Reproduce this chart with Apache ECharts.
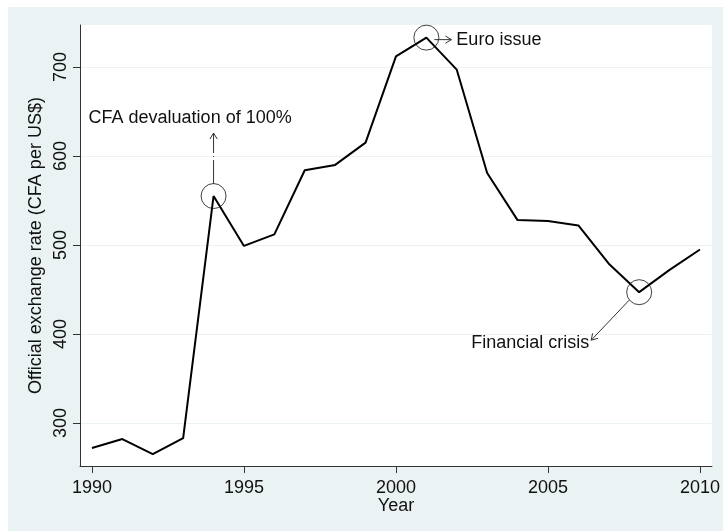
<!DOCTYPE html>
<html>
<head>
<meta charset="utf-8">
<title>Official exchange rate, CFA franc per US dollar</title>
<script src="https://cdn.jsdelivr.net/npm/echarts@6/dist/echarts.min.js"></script>
<style>
  html, body { margin: 0; padding: 0; background: #ffffff; }
  #chart { position: absolute; left: 8px; top: 7px; width: 715px; height: 524px; }
</style>
</head>
<body>
<div id="chart"></div>
<script>
// Annual official exchange rate, CFA francs per US dollar
const years = [1990, 1991, 1992, 1993, 1994, 1995, 1996, 1997, 1998, 1999, 2000,
               2001, 2002, 2003, 2004, 2005, 2006, 2007, 2008, 2009, 2010];
const rates = [272, 282, 265, 283, 555, 499, 512, 584, 590, 615, 712,
               733, 697, 581, 528, 527, 522, 479, 447, 472, 495];

const xTicks = [1990, 1995, 2000, 2005, 2010];
const yTicks = [300, 400, 500, 600, 700];

// Highlighted events
const eventYears = [1994, 2001, 2008];
const eventTexts = ['CFA devaluation of 100%', 'Euro issue', 'Financial crisis'];

const FONT = '"Liberation Sans", Arial, Helvetica, sans-serif';
const INK = '#111111';
const AXIS = '#333333';
const BG = '#eaf2f3';

const chart = echarts.init(document.getElementById('chart'), null, { renderer: 'canvas' });

const eventPoints = eventYears.map(y => [y, rates[years.indexOf(y)]]);

chart.setOption({
  backgroundColor: BG,
  animation: false,
  grid: {
    left: 72, top: 18, right: 8, bottom: 65,
    show: true, backgroundColor: '#ffffff', borderWidth: 0
  },
  xAxis: {
    type: 'value',
    min: 1989.607, max: 2010.393,
    name: 'Year',
    nameLocation: 'middle',
    nameGap: 31,
    nameMoveOverlap: false,
    nameTextStyle: { fontFamily: FONT, fontSize: 18, color: INK },
    axisLine: { show: true, onZero: false, lineStyle: { color: AXIS, width: 1 } },
    axisTick: { show: true, length: 7, customValues: xTicks, lineStyle: { color: AXIS } },
    axisLabel: { customValues: xTicks, formatter: v => String(v), margin: 13,
                 fontFamily: FONT, fontSize: 18, color: INK },
    splitLine: { show: false }
  },
  yAxis: {
    type: 'value',
    min: 251.7, max: 747.2,
    name: 'Official exchange rate (CFA per US$)',
    nameLocation: 'middle',
    nameRotate: 90,
    nameGap: 35,
    nameMoveOverlap: false,
    nameTextStyle: { fontFamily: FONT, fontSize: 18, color: INK },
    axisLine: { show: true, onZero: false, lineStyle: { color: AXIS, width: 1 } },
    axisTick: { show: true, length: 7, customValues: yTicks, lineStyle: { color: AXIS } },
    axisLabel: { customValues: yTicks, formatter: v => String(v), rotate: 90, margin: 10,
                 fontFamily: FONT, fontSize: 18, color: INK },
    splitLine: { show: true, lineStyle: { color: BG, width: 1 } }
  },
  series: [
    {
      type: 'line',
      data: years.map((y, i) => [y, rates[i]]),
      showSymbol: false,
      lineStyle: { color: '#000000', width: 2 },
      z: 3
    },
    {
      type: 'scatter',
      data: eventPoints,
      symbol: 'circle',
      symbolSize: 25,
      itemStyle: { color: 'rgba(0,0,0,0)', borderColor: '#111111', borderWidth: 1 },
      z: 4
    }
  ]
});

// Arrow with an open V head at (x2, y2)
function arrow(x1, y1, x2, y2, dash) {
  const ang = Math.atan2(y2 - y1, x2 - x1);
  const L = 7, W = 0.55;
  const a1 = [x2 - L * Math.cos(ang - W), y2 - L * Math.sin(ang - W)];
  const a2 = [x2 - L * Math.cos(ang + W), y2 - L * Math.sin(ang + W)];
  return [
    { type: 'line', shape: { x1, y1, x2, y2 }, silent: true, z: 10,
      style: { stroke: '#333333', lineWidth: 1, lineDash: dash || null } },
    { type: 'polyline', shape: { points: [a1, [x2, y2], a2] }, silent: true, z: 10,
      style: { stroke: '#333333', lineWidth: 1, fill: null } }
  ];
}

function label(text, x, y, align) {
  return { type: 'text', x, y, silent: true, z: 10,
    style: { text, fill: INK, font: '18px ' + FONT, align, verticalAlign: 'middle' } };
}

// Pixel offsets of each arrow and caption from its marked point
const px = eventPoints.map(p => chart.convertToPixel({ gridIndex: 0 }, p));
const g = [];
// 1994 devaluation: dash-dot arrow pointing up to the caption
g.push(...arrow(px[0][0], px[0][1] - 12, px[0][0], px[0][1] - 63, [24, 3, 1, 3]));
g.push(label(eventTexts[0], px[0][0] - 125, px[0][1] - 78, 'left'));
// 2001 euro: short arrow to the right
g.push(...arrow(px[1][0] + 8, px[1][1] + 2, px[1][0] + 25, px[1][1] + 2));
g.push(label(eventTexts[1], px[1][0] + 30, px[1][1] + 2, 'left'));
// 2008 crisis: arrow down-left to the caption
g.push(...arrow(px[2][0] - 10, px[2][1] + 8, px[2][0] - 48, px[2][1] + 48));
g.push(label(eventTexts[2], px[2][0] - 50, px[2][1] + 51, 'right'));

chart.setOption({ graphic: g });
</script>
</body>
</html>
